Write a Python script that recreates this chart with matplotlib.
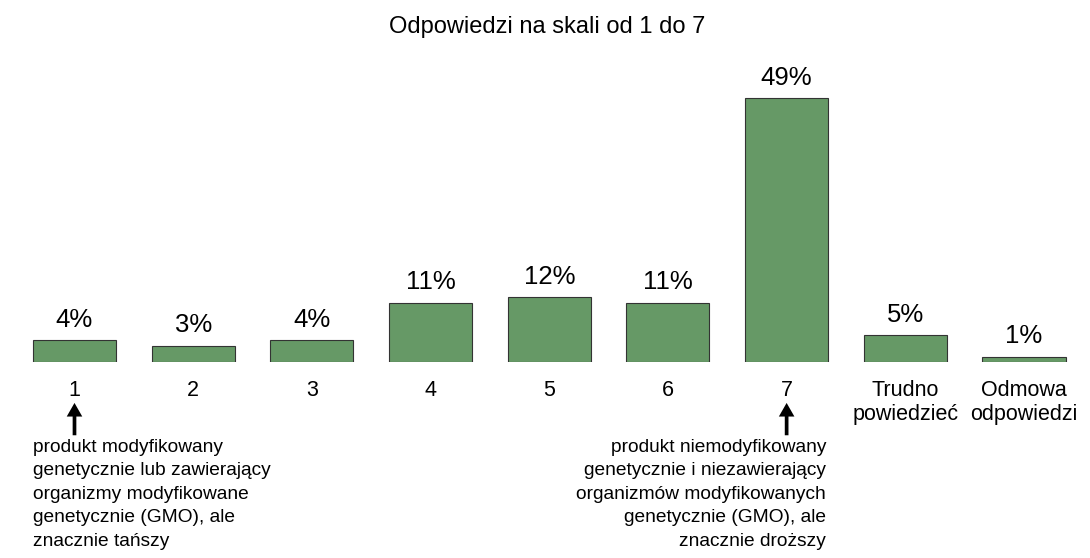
import matplotlib.pyplot as plt

plt.rcParams['font.family'] = ['Liberation Sans', 'DejaVu Sans']

kategorie = ['1', '2', '3', '4', '5', '6', '7', 'Trudno\npowiedzieć', 'Odmowa\nodpowiedzi']
wartosci = [4, 3, 4, 11, 12, 11, 49, 5, 1]

opis_lewy = ('produkt modyfikowany\ngenetycznie lub zawierający\norganizmy modyfikowane\n'
             'genetycznie (GMO), ale\nznacznie tańszy')
opis_prawy = ('produkt niemodyfikowany\ngenetycznie i niezawierający\norganizmów modyfikowanych\n'
              'genetycznie (GMO), ale\nznacznie droższy')

fig = plt.figure(figsize=(10.9, 5.58), dpi=100)
ax = fig.add_axes([0.0139, 0.3513, 0.980, 0.4829])

x = list(range(len(kategorie)))
bary = ax.bar(x, wartosci, width=0.7, color='#669966', edgecolor='#333333', linewidth=0.8)

for xi, v in zip(x, wartosci):
    ax.annotate(f'{v}%', (xi, v), xytext=(0, 6), textcoords='offset points',
                ha='center', va='bottom', fontsize=18.5)

ax.set_xlim(-0.5, len(kategorie) - 0.5)
ax.set_ylim(0, 50)
ax.set_xticks(x)
ax.set_xticklabels(kategorie, fontsize=15.5, linespacing=1.2)
ax.tick_params(axis='x', length=0, pad=13)
ax.set_yticks([])
for s in ax.spines.values():
    s.set_visible(False)

fig.text(0.502, 0.951, 'Odpowiedzi na skali od 1 do 7', ha='center', va='center', fontsize=17)

# strzalki i opisy skali
for xi in [0, 6]:
    ax.annotate('', xy=(xi, -7.6), xytext=(xi, -13.6), xycoords='data',
                arrowprops=dict(arrowstyle='simple,head_length=0.7,head_width=0.8,tail_width=0.19',
                                color='black', lw=0, mutation_scale=14, shrinkA=0, shrinkB=0),
                annotation_clip=False)

fig.text(0.030, 0.2133, opis_lewy, ha='left', va='top', fontsize=13.75, linespacing=1.5)
fig.text(0.758, 0.2133, opis_prawy, ha='right', va='top', fontsize=13.75, linespacing=1.5)

fig.savefig('out.png', dpi=100, facecolor='white')
